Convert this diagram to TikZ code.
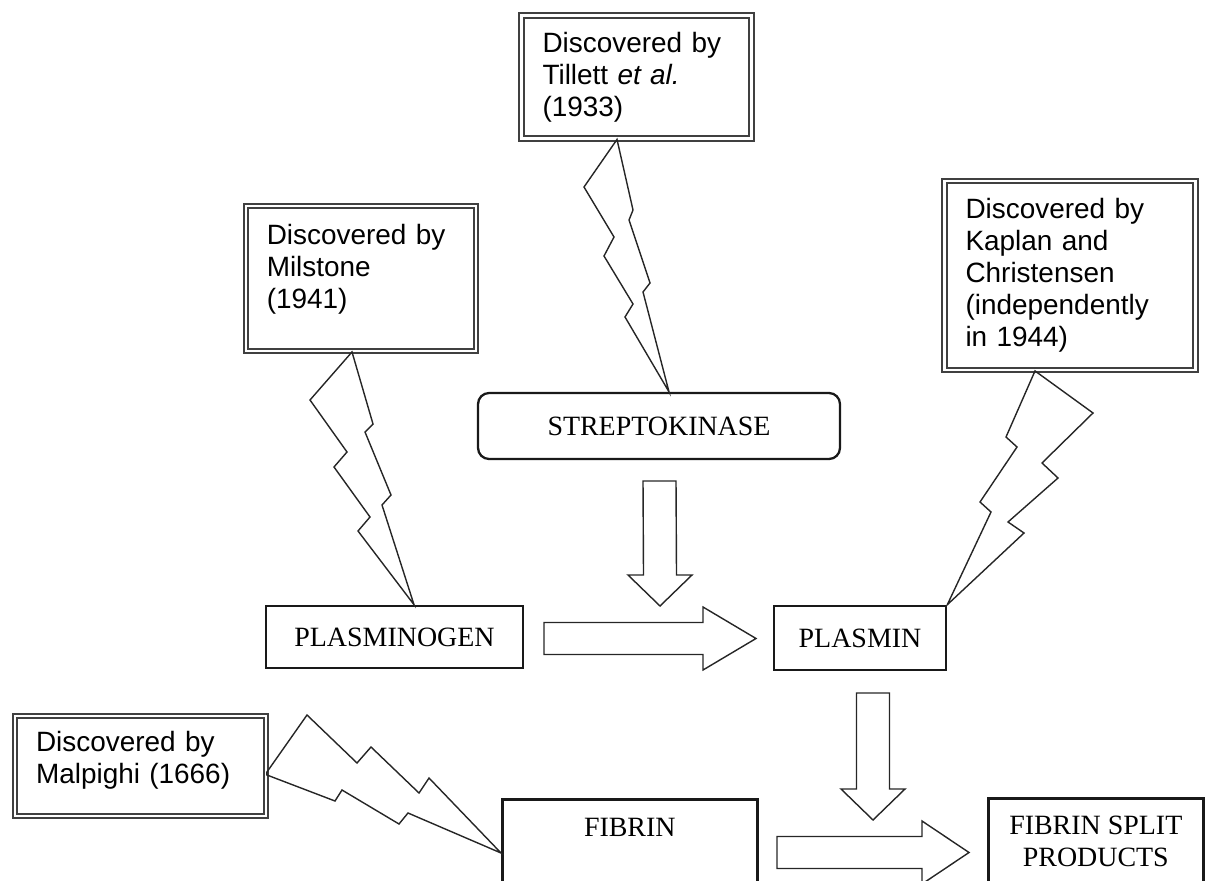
\documentclass[tikz,border=0pt]{standalone}
\usepackage{fontspec}
\setmainfont{Liberation Serif}
\newfontfamily\sanslabel{Liberation Sans}
\usepackage{tikz}
\usetikzlibrary{calc, positioning}
\tikzset{
    x=0.02cm, y=-0.02cm, % one unit is one pixel of the scan, y runs downwards
    stage/.style ={draw=black!90, line width=1.5pt, inner sep=0pt, font=\fontsize{15.9}{18.2}\selectfont}, % the plain boxes of the cascade
    roundstage/.style ={stage, rounded corners=0.22cm, line width=1.3pt},
    disc/.style ={draw=black!75, double, double distance=1.4pt, line width=1.1pt, align=left, inner xsep=0.42cm, inner ysep=0pt, font=\sanslabel\fontsize{15.9}{18.2}\selectfont}, % the double framed notes
    bolt/.style = {draw=black!85, line width=0.8pt, line join=miter},
    fat/.style = {draw=black!85, line width=0.8pt}
}
% fat arrows: tail, tip, length of the head
\newcommand{\fatright}[3]{%
  \draw[fat] ($(#1)+(0,-16)$) -- ($(#2)+(-#3,-16)$) -- ($(#2)+(-#3,-31.5)$) -- (#2) -- ($(#2)+(-#3,31.5)$) -- ($(#2)+(-#3,16)$) -- ($(#1)+(0,16)$) -- cycle;}
\newcommand{\fatdown}[3]{%
  \draw[fat] ($(#1)+(-16.5,0)$) -- ($(#2)+(-16.5,-#3)$) -- ($(#2)+(-32,-#3)$) -- (#2) -- ($(#2)+(32,-#3)$) -- ($(#2)+(16.5,-#3)$) -- ($(#1)+(16.5,0)$) -- cycle;}

\begin{document}
\begin{tikzpicture}
    \path[use as bounding box] (0,0) rectangle (1212,881);
    \clip (0,0) rectangle (1212,881);
    % the notes
    \node[disc, text width=3.76cm, minimum height=2.46cm] (tillett) at (636.5,77) {Discovered by\\ Tillett \textit{et al.}\\ (1933)};
    \node[disc, text width=3.77cm, minimum height=2.9cm, text depth=1.75cm] (milstone) at (361,278.5) {Discovered by\\ Milstone\\ (1941)};
    \node[disc, text width=4.18cm, minimum height=3.78cm] (kaplan) at (1070,275.5) {Discovered by\\ Kaplan and\\ Christensen\\ (independently\\ in 1944)};
    \node[disc, text width=4.18cm, minimum height=2.01cm, text depth=0.99cm] (malpighi) at (140.5,766) {Discovered by\\ Malpighi (1666)};
    % the cascade
    \node[roundstage, minimum width=7.24cm, minimum height=1.32cm] (strepto) at (659,426) {STREPTOKINASE};
    \node[stage, minimum width=5.14cm, minimum height=1.24cm] (plgn) at (394.5,637) {PLASMINOGEN};
    \node[stage, minimum width=3.44cm, minimum height=1.28cm] (plasmin) at (860,638) {PLASMIN};
    \node[stage, anchor=north west, minimum width=5.1cm, text height=0.74cm, text depth=1.4cm] (fibrin) at (501,798) {FIBRIN};
    \node[stage, anchor=north west, align=center, minimum width=4.3cm, minimum height=1.72cm] (fsp) at (987,797) {FIBRIN SPLIT\\ PRODUCTS};
    % lightning bolts from the notes
    \draw[bolt] ($(tillett.south)+(-19.5,0)$) -- (584,187) -- (614,237) -- (604,256) -- (633,304) -- (625,317) -- ($(strepto.north)+(10,0)$) -- (643,292) -- (650,283) -- (629,220) -- (633,210) -- cycle;
    \draw[bolt] ($(milstone.south)+(-9,0)$) -- (310,400) -- (347,452) -- (334,467) -- (370,517) -- (358,531) -- ($(plgn.north)+(19.5,0)$) -- (382,505) -- (391,495) -- (365,432) -- (373,424) -- cycle;
    \draw[bolt] ($(kaplan.south)+(-35,0)$) -- (1006,437) -- (1017,447) -- (980,502) -- (991,512) -- (plasmin.north east) -- (1024,533) -- (1008,522) -- (1058,478) -- (1042,463) -- (1093,413) -- cycle;
    \draw[bolt] ($(malpighi.east)+(0,6)$) -- (307,715) -- (357,763) -- (371,747) -- (419,793) -- (429,778) -- ($(fibrin.north west)+(0,55)$) -- (408,813) -- (399,824) -- (342,790) -- (335,801) -- ($(malpighi.east)+(0,9)$) -- cycle;
    % fat arrows between the stages
    \coordinate (s1) at (659.5,481);
    \coordinate (s2) at (660,606);
    \fatdown{s1}{s2}{31}
    \coordinate (p1) at (544,638.5);
    \coordinate (p2) at (756,638.5);
    \fatright{p1}{p2}{53}
    \coordinate (m1) at (873,693);
    \coordinate (m2) at (873,820);
    \fatdown{m1}{m2}{31}
    \coordinate (f1) at (777,852.5);
    \coordinate (f2) at (969,852.5);
    \fatright{f1}{f2}{47}
\end{tikzpicture}
\end{document}
